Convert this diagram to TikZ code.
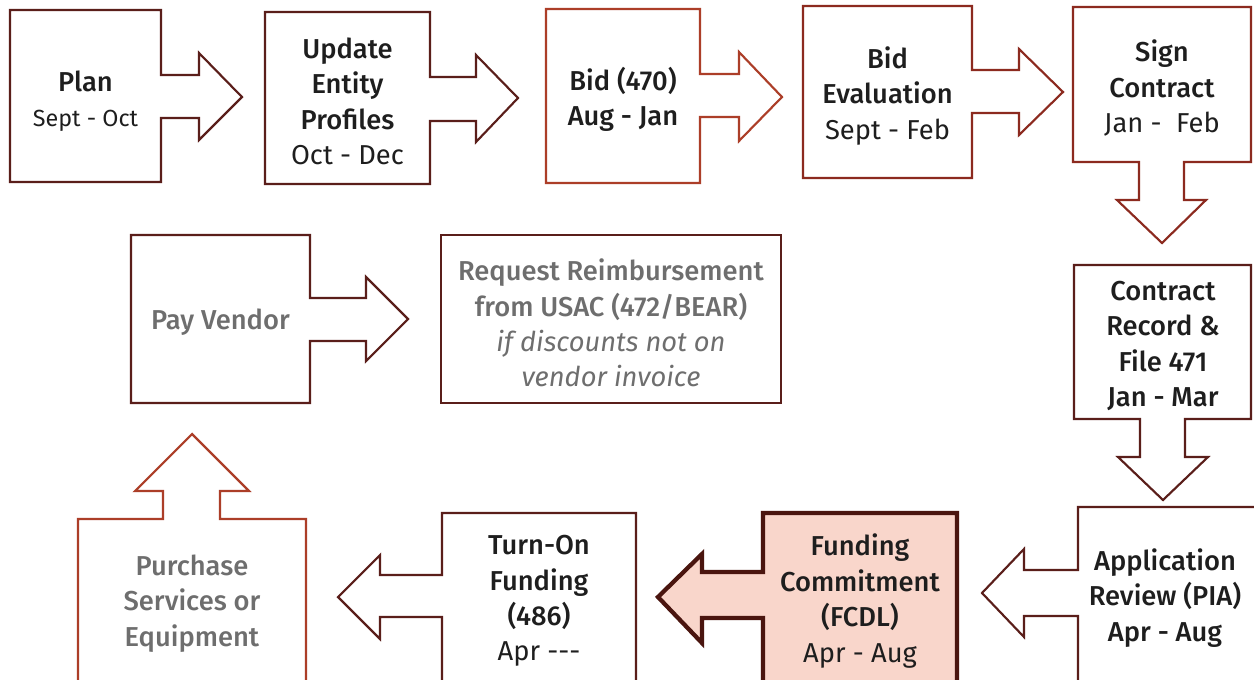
\documentclass[tikz,border=0pt]{standalone}
\usepackage{fontspec}
\setmainfont{Fira Sans}[BoldFont={Fira Sans Medium}]
\definecolor{dbrown}{HTML}{5A1E1A}
\definecolor{lred}{HTML}{AC3E28}
\definecolor{mred}{HTML}{8C2A1F}
\definecolor{fcborder}{HTML}{4A150F}
\definecolor{fcfill}{HTML}{F9D6CB}
\definecolor{txt}{HTML}{1E1E1E}
\definecolor{gtxt}{HTML}{6E6E6E}
\tikzset{
  shp/.style={line width=1.6pt, line join=miter, fill=white},
  lbl/.style={align=center, text=txt, font=\fontsize{20.5}{26.6}\selectfont, inner sep=0pt},
  glbl/.style={lbl, text=gtxt}
}
\begin{document}
\begin{tikzpicture}[x=0.75pt,y=-0.75pt]
\useasboundingbox (0,0) rectangle (1254,679);
\clip (0,0) rectangle (1254,679);
\fill[white] (0,0) rectangle (1254,679);
% Plan
\draw[shp, draw=dbrown] (10,10)--(161,10)--(161,75)--(199,75)--(199,53)--(242,97)--(199,140)--(199,118)--(161,118)--(161,182)--(10,182)--cycle;
% Update
\draw[shp, draw=dbrown] (265,12)--(430,12)--(430,77)--(476,77)--(476,55)--(518,98)--(476,142)--(476,121)--(430,121)--(430,184)--(265,184)--cycle;
% Bid
\draw[shp, draw=lred] (546,9)--(700,9)--(700,74)--(739,74)--(739,52)--(782,97)--(739,141)--(739,117)--(700,117)--(700,183)--(546,183)--cycle;
% Bid evaluation
\draw[shp, draw=mred] (803,6)--(972,6)--(972,70)--(1019,70)--(1019,49)--(1063,92)--(1019,135)--(1019,113)--(972,113)--(972,178)--(803,178)--cycle;
% Sign contract
\draw[shp, draw=mred] (1073,7)--(1251,7)--(1251,162)--(1184,162)--(1184,200)--(1206,200)--(1162,243)--(1117,200)--(1139,200)--(1139,162)--(1073,162)--cycle;
% Contract record
\draw[shp, draw=dbrown] (1074,265)--(1251,265)--(1251,419)--(1185,419)--(1185,457)--(1208,457)--(1163,500)--(1118,457)--(1140,457)--(1140,419)--(1074,419)--cycle;
% Application review
\draw[shp, draw=dbrown] (1078,700)--(1078,616)--(1024,616)--(1024,637)--(982,593)--(1024,549)--(1024,570)--(1078,570)--(1078,507)--(1280,507)--(1280,700)--cycle;
% Funding commitment
\draw[line width=3.2pt, line join=miter, draw=fcborder, fill=fcfill] (763,700)--(763,618)--(702,618)--(702,643)--(658,597)--(702,554)--(702,572)--(763,572)--(763,513)--(957,513)--(957,700)--cycle;
% Turn-on
\draw[shp, draw=dbrown] (442,700)--(442,617)--(380,617)--(380,639)--(338,597)--(380,555)--(380,575)--(442,575)--(442,513)--(636,513)--(636,700)--cycle;
% Purchase
\draw[shp, draw=lred] (78,700)--(78,519)--(163,519)--(163,491)--(135,491)--(192,434)--(249,491)--(220,491)--(220,519)--(306,519)--(306,700)--cycle;
% Pay vendor
\draw[shp, draw=dbrown] (131,235)--(310,235)--(310,298)--(366,298)--(366,277)--(408,319)--(366,361)--(366,341)--(310,341)--(310,403)--(131,403)--cycle;
% Request
\draw[shp, draw=dbrown] (441,235) rectangle (781,403);

\node[lbl] (plan) at (85.5,101) {\textbf{Plan}\\{\fontsize{17.5}{22}\selectfont Sept - Oct}};
\node[lbl] (update) at (347.5,101.5) {\textbf{Update}\\\textbf{Entity}\\\textbf{Profiles}\\Oct - Dec};
\node[lbl] (bid) at (623,99.5) {\textbf{Bid (470)}\\\textbf{Aug - Jan}};
\node[lbl] (bideval) at (887.5,96) {\textbf{Bid}\\\textbf{Evaluation}\\Sept - Feb};
\node[lbl] (sign) at (1162,88) {\textbf{Sign}\\\textbf{Contract}\\Jan -~ Feb};
\node[lbl] (record) at (1163,346) {\textbf{Contract}\\\textbf{Record \&}\\\textbf{File 471}\\\textbf{Jan - Mar}};
\node[lbl] (review) at (1165,598) {\textbf{Application}\\\textbf{Review (PIA)}\\\textbf{Apr - Aug}};
\node[lbl] (fcdl) at (860,601) {\textbf{Funding}\\\textbf{Commitment}\\\textbf{(FCDL)}\\Apr - Aug};
\node[lbl] (turnon) at (539,601) {\textbf{Turn-On}\\\textbf{Funding}\\\textbf{(486)}\\Apr -{}-{}-};
\node[glbl] (purchase) at (192,603.5) {\textbf{Purchase}\\\textbf{Services or}\\\textbf{Equipment}};
\node[glbl] (pay) at (220.5,322) {\textbf{Pay Vendor}};
\node[glbl] (request) at (611,323) {\textbf{Request Reimbursement}\\\textbf{from USAC (472/BEAR)}\\\textit{if discounts not on}\\\textit{vendor invoice}};
\end{tikzpicture}
\end{document}
